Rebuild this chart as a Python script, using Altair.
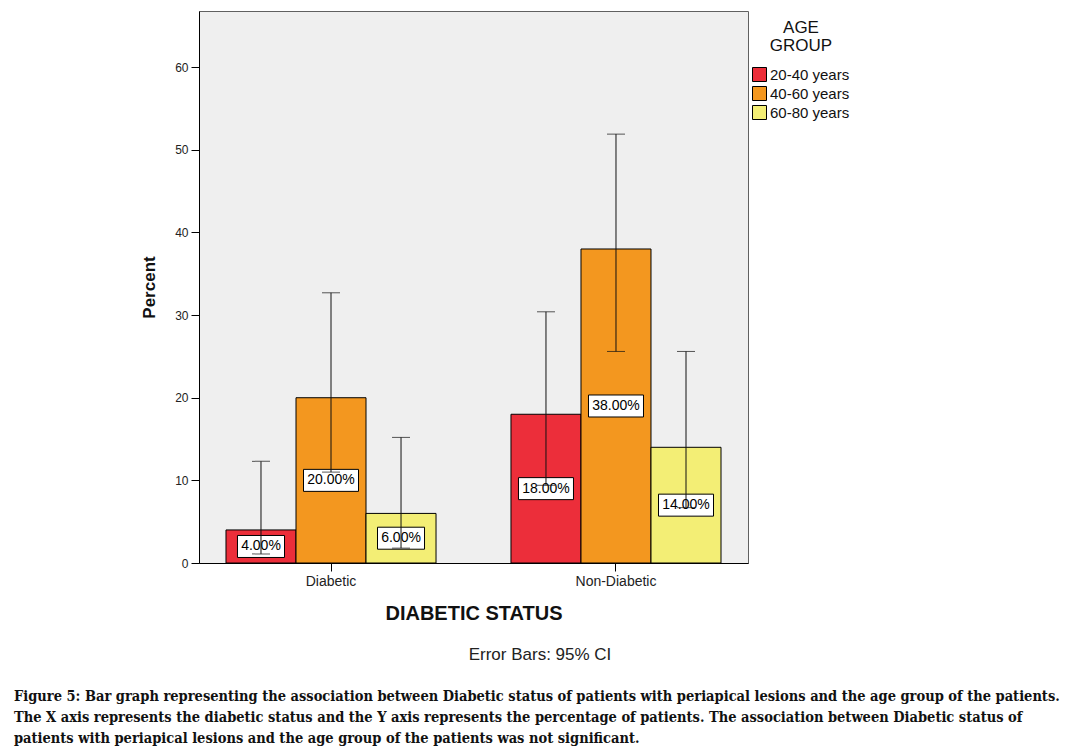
import altair as alt
import pandas as pd

# ---- data ----
status = ["Diabetic", "Non-Diabetic"]
age_groups = ["20-40 years", "40-60 years", "60-80 years"]
pct_diabetic = [4.0, 20.0, 6.0]
pct_non_diabetic = [18.0, 38.0, 14.0]
ci_low_diabetic = [1.1, 11.0, 1.8]
ci_high_diabetic = [12.3, 32.7, 15.2]
ci_low_non_diabetic = [9.4, 25.6, 6.7]
ci_high_non_diabetic = [30.4, 51.9, 25.6]
y_ticks = [0, 10, 20, 30, 40, 50, 60]
colors = ["#EC2E3A", "#F3971F", "#F3EE75"]
error_note = "Error Bars: 95% CI"
caption_lines = [
    "Figure 5: Bar graph representing the association between Diabetic status of patients with periapical lesions and the age group of the patients.",
    "The X axis represents the diabetic status and the Y axis represents the percentage of patients. The association between Diabetic status of",
    "patients with periapical lesions and the age group of the patients was not significant.",
]

rows = []
for s, pcts, lo, hi in zip(
    status,
    [pct_diabetic, pct_non_diabetic],
    [ci_low_diabetic, ci_low_non_diabetic],
    [ci_high_diabetic, ci_high_non_diabetic],
):
    for a, p, l, h in zip(age_groups, pcts, lo, hi):
        rows.append(dict(status=s, age=a, pct=p, lo=l, hi=h, label=f"{p:.2f}%"))
df = pd.DataFrame(rows)

W, H = 549, 552
FONT = "Liberation Sans"

x_enc = alt.X(
    "status:N",
    sort=status,
    scale=alt.Scale(domain=status, paddingInner=0.263, paddingOuter=0.0947),
    axis=alt.Axis(
        title="DIABETIC STATUS", labelAngle=0, labelFontSize=14, labelPadding=3,
        titleFontSize=20, titleFontWeight="bold", titlePadding=15, titleColor="#111",
    ),
)
xo_enc = alt.XOffset("age:N", sort=age_groups, scale=alt.Scale(domain=age_groups))
y_scale = alt.Scale(domain=[0, 66.8], nice=False)
y_axis = alt.Axis(
    title="Percent", values=y_ticks, labelFontSize=12, labelPadding=3,
    titleFontSize=17, titleFontWeight="bold", titlePadding=16, titleColor="#111", grid=False,
)

base = alt.Chart(df)

bars = base.mark_bar(stroke="black", strokeWidth=1).encode(
    x=x_enc, xOffset=xo_enc,
    y=alt.Y("pct:Q", scale=y_scale, axis=y_axis),
    color=alt.Color(
        "age:N",
        scale=alt.Scale(domain=age_groups, range=colors),
        legend=alt.Legend(
            title=["AGE", "GROUP"], orient="none", legendX=553, legendY=9,
            titleFontSize=17, titleFontWeight="normal", titleAnchor="middle", titleAlign="center",
            titleLineHeight=18, titlePadding=12, titleColor="#111",
            labelFontSize=15, labelColor="#111", labelOffset=3,
            symbolType="square", symbolSize=196, symbolStrokeColor="black", symbolStrokeWidth=1,
            rowPadding=0, padding=0,
        ),
    ),
)

box_short = "M-0.855,-0.4L0.855,-0.4L0.855,0.4L-0.855,0.4Z"
box_long = "M-1,-0.4L1,-0.4L1,0.4L-1,0.4Z"

boxes = base.transform_calculate(
    mid="datum.pct / 2",
    kind="length(datum.label) > 5 ? 'long' : 'short'",
).mark_point(filled=True, fill="white", stroke="black", strokeWidth=1, opacity=1, size=3025).encode(
    x=x_enc, xOffset=xo_enc,
    y=alt.Y("mid:Q", scale=y_scale, axis=y_axis),
    shape=alt.Shape("kind:N", scale=alt.Scale(domain=["short", "long"], range=[box_short, box_long]), legend=None),
)

labels = base.transform_calculate(mid="datum.pct / 2").mark_text(
    font=FONT, fontSize=14, color="black"
).encode(
    x=x_enc, xOffset=xo_enc,
    y=alt.Y("mid:Q", scale=y_scale, axis=y_axis),
    text="label:N",
)

rules = base.mark_rule(color="#111", strokeWidth=1).encode(
    x=x_enc, xOffset=xo_enc,
    y=alt.Y("lo:Q", scale=y_scale, axis=y_axis),
    y2="hi:Q",
)

caps = base.transform_fold(["lo", "hi"], as_=["which", "v"]).mark_tick(
    color="#111", thickness=1, size=18
).encode(
    x=x_enc, xOffset=xo_enc,
    y=alt.Y("v:Q", scale=y_scale, axis=y_axis),
)

one = alt.Data(values=[{}])
note = alt.Chart(one).mark_text(
    text=error_note, font=FONT, fontSize=17, color="#222", align="center", baseline="middle"
).encode(x=alt.value(341), y=alt.value(644))

cap_layers = []
for i, line in enumerate(caption_lines):
    cap_layers.append(
        alt.Chart(one).mark_text(
            text=line, font="DejaVu Serif Condensed", fontSize=14.5, fontWeight="bold",
            color="#111", align="left", baseline="middle",
        ).encode(x=alt.value(-185), y=alt.value(686 + 21 * i))
    )

chart = alt.layer(bars, boxes, labels, rules, caps, note, *cap_layers).properties(
    width=W, height=H,
    autosize=alt.AutoSizeParams(type="none"),
    padding={"left": 199, "top": 11, "right": 336, "bottom": 192},
).configure_view(
    fill="#EFEFEF", stroke="#606060", strokeWidth=1
).configure_axis(
    domainColor="black", tickColor="black", labelColor="#222", labelFont=FONT, titleFont=FONT,
    tickSize=8, domainWidth=1,
).configure_legend(labelFont=FONT, titleFont=FONT)

chart.save("out.html", embed_options={"renderer": "svg", "actions": False})
